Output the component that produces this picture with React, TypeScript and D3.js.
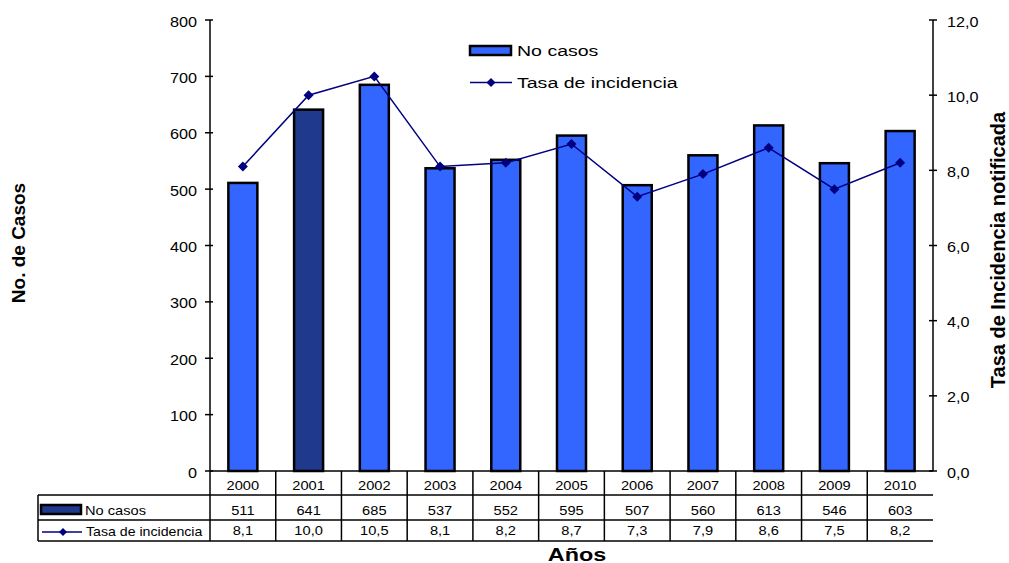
import React from "react";
import * as d3 from "d3";

const years = ["2000", "2001", "2002", "2003", "2004", "2005", "2006", "2007", "2008", "2009", "2010"];
const casos = [511, 641, 685, 537, 552, 595, 507, 560, 613, 546, 603];
const tasa = [8.1, 10.0, 10.5, 8.1, 8.2, 8.7, 7.3, 7.9, 8.6, 7.5, 8.2];
const leftTicks = [0, 100, 200, 300, 400, 500, 600, 700, 800];
const rightTicks = [0, 2, 4, 6, 8, 10, 12];

const W = 1009;
const H = 563;
const left = 210;
const right = 933;
const top = 20;
const bottom = 471;
const tableLeft = 38;
const rowLines = [495, 520, 541];

const BAR = "#3366FF";
const BAR_DARK = "#1F3A8C";
const LINE = "#000080";
const FONT = "Liberation Sans, Arial, sans-serif";

const fmt = (v: number) => v.toFixed(1).replace(".", ",");

// horizontally widened text label
function T(props: {
  x: number;
  y: number;
  sx: number;
  size: number;
  anchor?: "start" | "middle" | "end";
  bold?: boolean;
  children: React.ReactNode;
}) {
  return (
    <text
      transform={`translate(${props.x},${props.y}) scale(${props.sx},1)`}
      textAnchor={props.anchor || "start"}
      fontSize={props.size}
      fontWeight={props.bold ? "bold" : "normal"}
    >
      {props.children}
    </text>
  );
}

export default function App() {
  const x = d3.scaleBand<string>().domain(years).range([left, right]).paddingInner(0).paddingOuter(0);
  const yL = d3.scaleLinear().domain([0, 800]).range([bottom, top]);
  const yR = d3.scaleLinear().domain([0, 12]).range([bottom, top]);
  const bw = x.bandwidth();
  const barW = 29;
  const cx = (y: string) => (x(y) as number) + bw / 2;

  const line = d3
    .line<number>()
    .x((_, i) => cx(years[i]))
    .y((d) => yR(d));

  const diamond = (px: number, py: number, r = 4.5) =>
    `M${px},${py - r}L${px + r},${py}L${px},${py + r}L${px - r},${py}Z`;

  return (
    <svg width={W} height={H} style={{ position: "absolute", left: 0, top: 0, background: "#fff" }} fontFamily={FONT}>
      {/* bars */}
      {casos.map((v, i) => (
        <rect
          key={years[i]}
          x={cx(years[i]) - barW / 2}
          y={yL(v)}
          width={barW}
          height={bottom - yL(v)}
          fill={i === 1 ? BAR_DARK : BAR}
          stroke="#000"
          strokeWidth={2.5}
        />
      ))}

      {/* rate line */}
      <path d={line(tasa) || ""} fill="none" stroke={LINE} strokeWidth={1.5} />
      {tasa.map((v, i) => (
        <path key={"d" + i} d={diamond(cx(years[i]), yR(v), 5)} fill={LINE} />
      ))}

      {/* left axis */}
      <line x1={left} x2={left} y1={top} y2={bottom} stroke="#000" strokeWidth={1.5} />
      {leftTicks.map((t) => (
        <g key={"l" + t}>
          <line x1={left - 5} x2={left + 3} y1={yL(t)} y2={yL(t)} stroke="#000" strokeWidth={1.5} />
          <T x={197} y={yL(t) + 6.5} sx={1.08} size={15} anchor="end">
            {t}
          </T>
        </g>
      ))}

      {/* right axis */}
      <line x1={right} x2={right} y1={top} y2={bottom} stroke="#000" strokeWidth={1.5} />
      {rightTicks.map((t) => (
        <g key={"r" + t}>
          <line x1={right - 4} x2={right + 4} y1={yR(t)} y2={yR(t)} stroke="#000" strokeWidth={1.5} />
          <T x={947} y={yR(t) + 6.5} sx={1.08} size={15}>
            {fmt(t)}
          </T>
        </g>
      ))}

      {/* base line */}
      <line x1={left} x2={right} y1={bottom} y2={bottom} stroke="#000" strokeWidth={1.5} />

      {/* data table */}
      {rowLines.map((ly) => (
        <line key={"h" + ly} x1={tableLeft} x2={right} y1={ly} y2={ly} stroke="#000" strokeWidth={1.5} />
      ))}
      <line x1={tableLeft} x2={tableLeft} y1={rowLines[0]} y2={rowLines[2]} stroke="#000" strokeWidth={1.5} />
      {years.map((yr) => (
        <line
          key={"v" + yr}
          x1={x(yr) as number}
          x2={x(yr) as number}
          y1={bottom}
          y2={rowLines[2]}
          stroke="#000"
          strokeWidth={1.5}
        />
      ))}
      {years.map((yr, i) => (
        <g key={"t" + yr}>
          <T x={cx(yr)} y={490} sx={1.22} size={12} anchor="middle">{yr}</T>
          <T x={cx(yr)} y={514.5} sx={1.22} size={12} anchor="middle">{casos[i]}</T>
          <T x={cx(yr)} y={535} sx={1.22} size={12} anchor="middle">{fmt(tasa[i])}</T>
        </g>
      ))}
      {/* table legend keys */}
      <rect x={41} y={505} width={40} height={9} fill={BAR_DARK} stroke="#000" strokeWidth={2.5} />
      <T x={85} y={515} sx={1.22} size={12}>No casos</T>
      <line x1={42} x2={82} y1={532} y2={532} stroke={LINE} strokeWidth={1.5} />
      <path d={diamond(63, 532, 4)} fill={LINE} />
      <T x={86} y={536} sx={1.18} size={12}>Tasa de incidencia</T>

      {/* legend */}
      <rect x={470} y={46} width={41} height={9} fill={BAR} stroke="#000" strokeWidth={2.5} />
      <T x={517} y={56} sx={1.26} size={15.5}>No casos</T>
      <line x1={470} x2={512} y1={82.5} y2={82.5} stroke={LINE} strokeWidth={1.5} />
      <path d={diamond(491, 82.5, 4.5)} fill={LINE} />
      <T x={517} y={88} sx={1.26} size={15.5}>Tasa de incidencia</T>

      {/* axis titles */}
      <T x={577} y={561} sx={1.3} size={18} anchor="middle" bold>Años</T>
      <text
        transform={`translate(25,243) rotate(-90)`}
        textAnchor="middle"
        fontSize={19}
        fontWeight="bold"
      >
        No. de Casos
      </text>
      <text
        transform={`translate(1005,250) rotate(-90)`}
        textAnchor="middle"
        fontSize={20}
        fontWeight="bold"
      >
        Tasa de Incidencia notificada
      </text>
    </svg>
  );
}
